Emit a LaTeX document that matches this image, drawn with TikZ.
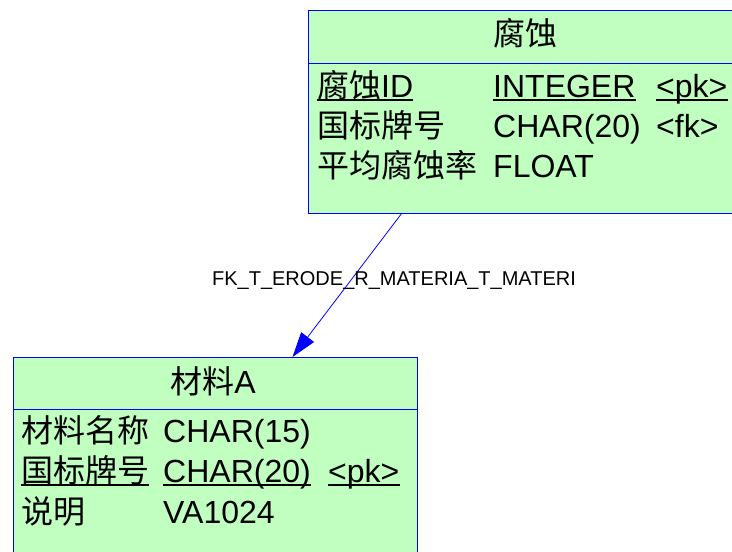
\documentclass[tikz,border=0pt]{standalone}
\usepackage{fontspec}
\setmainfont{Liberation Sans}
\newfontfamily\cjk{Noto Sans CJK SC}
\usetikzlibrary{arrows.meta}
\definecolor{tabfill}{RGB}{192,255,192}
\definecolor{tabline}{RGB}{0,0,255}
\tikzset{
  tablebox/.style={draw=tabline, fill=tabfill, line width=1pt, inner sep=0pt, anchor=north west},
  sepline/.style={draw=tabline, line width=1pt},
  cell/.style={anchor=base west, inner sep=0pt, font=\fontsize{32}{38}\selectfont},
  tabtitle/.style={anchor=base, inner sep=0pt, font=\fontsize{32}{38}\selectfont},
  uline/.style={line width=1.8pt, black},
  fk/.style={draw=tabline, line width=0.8pt, -{Triangle[length=25pt,width=16pt]}},
  fklabel/.style={inner sep=0pt, font=\fontsize{20}{24}\selectfont}
}
\begin{document}
\begin{tikzpicture}[x=1pt,y=-1pt]
\clip (0,0) rectangle (732,552);
\fill[white] (0,0) rectangle (732,552);
% table 腐蚀
\node[tablebox, minimum width=423.5pt, minimum height=203.5pt] (erode) at (308,9.5) {};
\draw[sepline] (308,63) -- (731.5,63);
\node[tabtitle] (erodetitle) at (525,45) {\cjk 腐蚀};
\node[cell] (e11) at (317,97) {{\cjk 腐蚀}ID};
\node[cell] (e12) at (493,97) {INTEGER};
\node[cell] (e13) at (656,97) {<pk>};
\node[cell] (e21) at (317,137) {\cjk 国标牌号};
\node[cell] (e22) at (493,137) {CHAR(20)};
\node[cell] (e23) at (656,137) {<fk>};
\node[cell] (e31) at (317,177) {\cjk 平均腐蚀率};
\node[cell] (e32) at (493,177) {FLOAT};
\foreach \n in {e11,e12,e13}
  \draw[uline] ([yshift=-3pt]\n.base west) -- ([yshift=-3pt]\n.base east);
% table 材料A
\node[tablebox, minimum width=404pt, minimum height=210pt] (mat) at (12.5,357) {};
\draw[sepline] (12.5,409) -- (416.5,409);
\node[tabtitle] (mattitle) at (213,393) {{\cjk 材料}A};
\node[cell] (m11) at (21,442) {\cjk 材料名称};
\node[cell] (m12) at (163,442) {CHAR(15)};
\node[cell] (m21) at (21,482) {\cjk 国标牌号};
\node[cell] (m22) at (163,482) {CHAR(20)};
\node[cell] (m23) at (328,482) {<pk>};
\node[cell] (m31) at (21,523) {\cjk 说明};
\node[cell] (m32) at (163,523) {VA1024};
\foreach \n in {m21,m22,m23}
  \draw[uline] ([yshift=-3pt]\n.base west) -- ([yshift=-3pt]\n.base east);
% connector
\coordinate (fkstart) at (402,213);
\coordinate (fkend) at (292.5,357);
\draw[fk] (fkstart) -- (fkend);
\node[fklabel] (fkname) at (394,281) {FK\_T\_ERODE\_R\_MATERIA\_T\_MATERI};
\end{tikzpicture}
\end{document}
